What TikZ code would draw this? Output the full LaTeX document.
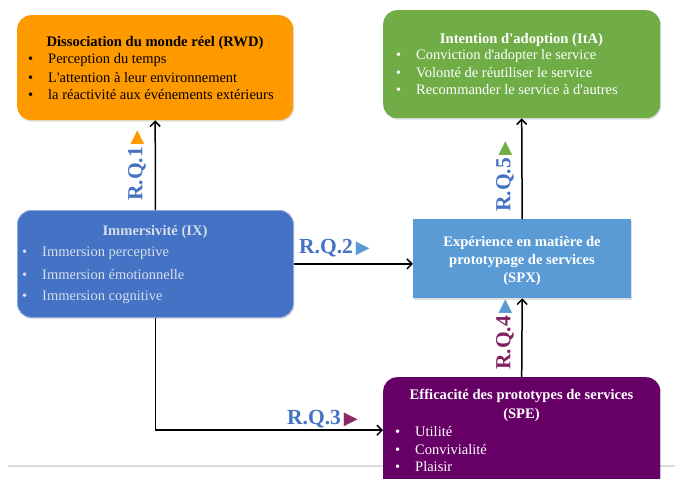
\documentclass[tikz,border=0pt]{standalone}
\usepackage{fontspec}
\setmainfont{Liberation Serif}[Ligatures=TeXOff]
\newfontfamily\symfont{DejaVu Sans}
\usetikzlibrary{arrows.meta,shadows}
\definecolor{rwdC}{RGB}{255,153,0}
\definecolor{itaC}{RGB}{112,173,71}
\definecolor{ixC}{RGB}{68,114,196}
\definecolor{spxC}{RGB}{91,155,213}
\definecolor{speC}{RGB}{102,0,102}
\definecolor{lblC}{RGB}{68,114,196}
\definecolor{rqfourC}{RGB}{128,36,96}
\definecolor{trithreeC}{RGB}{140,40,100}
\definecolor{ixtxtC}{RGB}{215,222,236}
\newcommand\itemline[1]{\makebox[20pt][l]{\textbullet}#1}
\newcommand\tri[1]{\hspace{3pt}{\symfont\fontsize{18}{18}\selectfont\textcolor{#1}{▶}}}
\begin{document}
\begin{tikzpicture}[x=1pt,y=-1pt,
  box/.style={rounded corners=14pt, inner sep=0pt, anchor=north west,
    drop shadow={shadow xshift=1pt,shadow yshift=-1.5pt,opacity=0.25}},
  ttl/.style={font=\fontsize{14.6}{16}\selectfont\bfseries, inner sep=0pt},
  itm/.style={font=\fontsize{14.5}{16}\selectfont, anchor=west, inner sep=0pt},
  conn/.style={line width=1.5pt, -{Straight Barb[length=5pt,width=10pt,line width=1.5pt]}},
  rq/.style={font=\fontsize{21.5}{22}\selectfont\bfseries, inner sep=0pt, text=lblC, anchor=west}]
\useasboundingbox (0,0) rectangle (675,479);
\fill[white] (0,0) rectangle (675,479);
% separator line
\draw[line width=1.5pt, gray!30] (8,466) coordinate (sepL) -- (675,466) coordinate (sepR);

% boxes
\node[box, fill=rwdC, minimum width=276pt, minimum height=105pt] (rwd) at (17,15) {};
\node[box, fill=itaC, minimum width=277pt, minimum height=108pt] (ita) at (383,10) {};
\node[box, fill=ixC, minimum width=276pt, minimum height=107pt, draw=ixC!60!white, line width=0.8pt] (ix) at (17,210) {};
\node[box, rounded corners=0pt, fill=spxC, minimum width=218pt, minimum height=79pt] (spx) at (413,219) {};
\node[box, fill=speC, minimum width=277pt, minimum height=120pt] (spe) at (383,377) {};

% RWD text
\node[ttl] (rwdt) at (155,43) {Dissociation du monde réel (RWD)};
\node[itm] (rwd1) at (28,60) {\itemline{Perception du temps}};
\node[itm] (rwd2) at (28,77.5) {\itemline{L'attention à leur environnement}};
\node[itm] (rwd3) at (28,95) {\itemline{la réactivité aux événements extérieurs}};

% ItA text
\node[ttl, text=white] (itat) at (521.5,40) {Intention d'adoption (ItA)};
\node[itm, text=white] (ita1) at (396,56) {\itemline{Conviction d'adopter le service}};
\node[itm, text=white] (ita2) at (396,73) {\itemline{Volonté de réutiliser le service}};
\node[itm, text=white] (ita3) at (396,90) {\itemline{Recommander le service à d'autres}};

% IX text
\node[ttl, text=ixtxtC] (ixt) at (155,232) {Immersivité (IX)};
\node[itm, text=ixtxtC] (ix1) at (22,253) {\itemline{Immersion perceptive}};
\node[itm, text=ixtxtC] (ix2) at (22,275) {\itemline{Immersion émotionnelle}};
\node[itm, text=ixtxtC] (ix3) at (22,297) {\itemline{Immersion cognitive}};

% SPX text
\node[ttl, text=white, align=center, font=\fontsize{14.6}{18}\selectfont\bfseries] (spxt) at (522,261)
  {Expérience en matière de\\prototypage de services\\(SPX)};

% SPE text
\node[ttl, text=white, align=center, font=\fontsize{14.6}{19}\selectfont\bfseries] (spet) at (521.5,405.5)
  {Efficacité des prototypes de services\\(SPE)};
\node[itm, text=white] (spe1) at (395,432) {\itemline{Utilité}};
\node[itm, text=white] (spe2) at (395,449.5) {\itemline{Convivialité}};
\node[itm, text=white] (spe3) at (395,467) {\itemline{Plaisir}};

% connectors
\draw[conn] (ix.north) -- (rwd.south);
\draw[conn] (ix.east) -- (ix.east -| spx.west);
\draw[conn] (ix.south) |- ([yshift=7pt]spe.west);
\draw[conn] (spe.north) -- (spx.south);
\draw[conn] (spx.north) -- (ita.south);

% labels
\node[rq, rotate=90] (rq1) at (137,201) {R.Q.1\tri{rwdC}};
\node[rq] (rq2) at (299,248) {R.Q.2\tri{spxC}};
\node[rq] (rq3) at (287,419) {R.Q.3\tri{trithreeC}};
\node[rq, rotate=90, text=rqfourC] (rq4) at (505,370) {R.Q.4\tri{spxC}};
\node[rq, rotate=90] (rq5) at (505,212) {R.Q.5\tri{itaC}};
\end{tikzpicture}
\end{document}
